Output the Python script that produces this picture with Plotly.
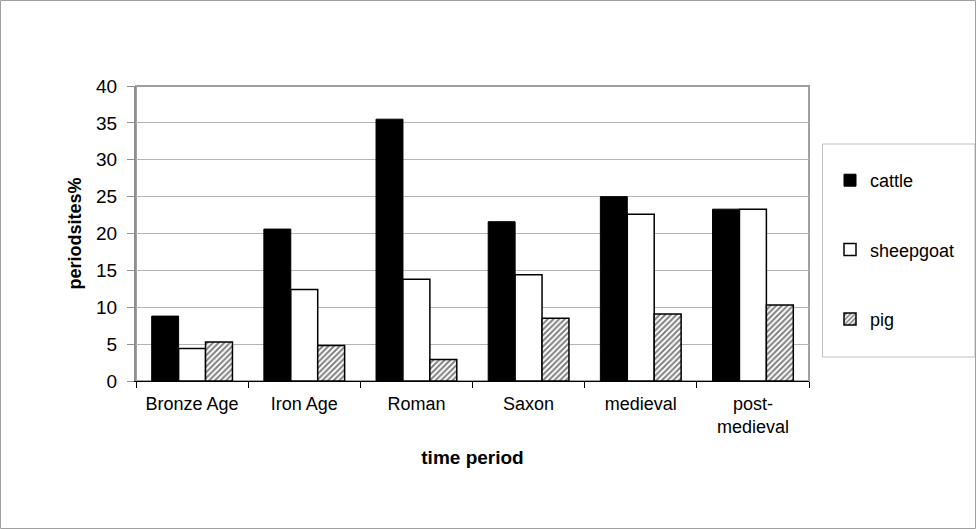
import plotly.graph_objects as go

periods = ["Bronze Age", "Iron Age", "Roman", "Saxon", "medieval", "post-<br>medieval"]
cattle = [8.8, 20.6, 35.5, 21.6, 25.0, 23.3]
sheepgoat = [4.4, 12.4, 13.8, 14.4, 22.6, 23.3]
pig = [5.3, 4.8, 2.9, 8.5, 9.1, 10.3]
y_ticks = [0, 5, 10, 15, 20, 25, 30, 35, 40]

W, H = 976, 529
L, R, T, B = 136, 167, 86, 148
pw, ph = W - L - R, H - T - B


def px_x(v):
    return (v - L) / pw


def px_y(v):
    return (H - B - v) / ph


fig = go.Figure()
fig.add_trace(go.Bar(name="cattle", x=periods, y=cattle, legendgroup="a",
                     marker=dict(color="black", line=dict(color="black", width=1))))
fig.add_trace(go.Bar(name="sheepgoat", x=periods, y=sheepgoat, legendgroup="b",
                     marker=dict(color="white", line=dict(color="black", width=1.5))))
fig.add_trace(go.Bar(name="pig", x=periods, y=pig, legendgroup="c",
                     marker=dict(color="white", line=dict(color="black", width=1.5),
                                 pattern=dict(shape="/", fgcolor="black", bgcolor="white",
                                              size=4, solidity=0.5))))

font = "Liberation Sans, Arial, sans-serif"
fig.update_layout(
    width=W, height=H,
    margin=dict(l=L, r=R, t=T, b=B),
    paper_bgcolor="white", plot_bgcolor="white",
    barmode="group", bargap=0.28, bargroupgap=0,
    font=dict(family=font, size=18, color="black"),
    showlegend=True,
    legend=dict(x=px_x(830), y=px_y(162), xanchor="left", yanchor="top",
                borderwidth=0, bgcolor="rgba(0,0,0,0)",
                font=dict(size=18), tracegroupgap=43, entrywidth=120,
                itemwidth=30),
    xaxis=dict(showline=True, linecolor="black", linewidth=1, ticks="outside",
               tickson="boundaries", ticklen=6, tickcolor="black",
               ticklabelstandoff=6,
               title=dict(text="<b>time period</b>", font=dict(size=19), standoff=14),
               tickfont=dict(size=18)),
    yaxis=dict(range=[0, 40], tickvals=y_ticks, showline=True, linecolor="#909090",
               linewidth=2, ticks="outside", ticklen=7, tickcolor="#909090",
               ticklabelstandoff=6,
               gridcolor="#b4b4b4", gridwidth=1, zeroline=False,
               title=dict(text="<b>periodsites%</b>", font=dict(size=18), standoff=10),
               tickfont=dict(size=19)),
    shapes=[
        # plot border
        dict(type="rect", xref="paper", yref="paper", x0=0, x1=1, y0=0, y1=1,
             line=dict(color="#a0a0a0", width=2), layer="below"),
        # legend box
        dict(type="rect", xref="paper", yref="paper",
             x0=px_x(822.5), x1=px_x(975), y0=px_y(357), y1=px_y(144),
             line=dict(color="#c0c0c0", width=1), layer="below"),
        # outer chart frame
        dict(type="rect", xref="paper", yref="paper",
             x0=px_x(0.5), x1=px_x(975.5), y0=px_y(528.5), y1=px_y(0.5),
             line=dict(color="#a0a0a0", width=1)),
    ],
)

fig.write_html("out.html")
